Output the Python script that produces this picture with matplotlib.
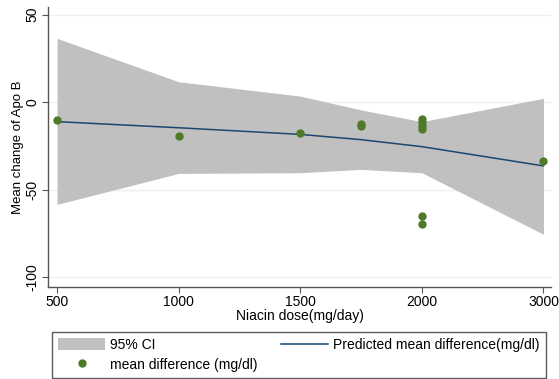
import numpy as np
import matplotlib
matplotlib.use("Agg")
import matplotlib.pyplot as plt
from matplotlib.patches import Patch
from matplotlib.lines import Line2D

plt.rcParams['font.family'] = ['Liberation Sans', 'DejaVu Sans']

# observed mean differences (dose, change)
obs_dose = [500, 1000, 1500, 1750, 1750, 2000, 2000, 2000, 2000, 2000, 2000, 3000]
obs_diff = [-10.5, -19.4, -17.6, -12.3, -13.5, -9.5, -11.5, -13.5, -15.5, -65.2, -69.8, -33.5]

# predicted curve and 95% CI
pred_dose = [500, 1000, 1500, 1750, 2000, 3000]
pred_mean = [-11.2, -14.7, -18.5, -21.5, -25.5, -36.5]
ci_upper = [36.4, 11.6, 3.4, -4.5, -11.2, 2.1]
ci_lower = [-58.5, -40.8, -40.4, -38.5, -40.4, -75.6]

xticks = [500, 1000, 1500, 2000, 3000]
yticks = [50, 0, -50, -100]


# x axis is compressed above 2000 (as in the original plot)
def fwd(x):
    x = np.asarray(x, dtype=float)
    return np.where(x <= 2000, x, 2000 + (x - 2000) * 0.5)


def inv(x):
    x = np.asarray(x, dtype=float)
    return np.where(x <= 2000, x, 2000 + (x - 2000) * 2.0)


W, H = 559, 379
fig = plt.figure(figsize=(W / 100, H / 100), dpi=100)
ax = fig.add_axes([48 / W, 1 - 287 / H, (551 - 48) / W, (287 - 7) / H])
ax.set_xscale('function', functions=(fwd, inv))

gray = '#c0c0c0'
green = '#4f7a28'
navy = '#1a476f'

ax.fill_between(pred_dose, ci_lower, ci_upper, color=gray, lw=0, zorder=1)
ax.plot(pred_dose, pred_mean, color=navy, lw=1.1, zorder=3)
ax.scatter(obs_dose, obs_diff, s=36, color=green, zorder=4, linewidths=0)

ax.set_xlim(463, 3062)
ax.set_ylim(-105.7, 54.3)
ax.set_xticks(xticks)
ax.set_xticklabels([str(v) for v in xticks])
ax.set_yticks(yticks)
ax.set_yticklabels([str(v) for v in yticks], rotation=90, va='center')
ax.minorticks_off()

for y in yticks:
    ax.axhline(y, color='#eaf2f3', lw=1, zorder=0)

for s in ['top', 'right']:
    ax.spines[s].set_visible(False)
for s in ['left', 'bottom']:
    ax.spines[s].set_color('#555555')
    ax.spines[s].set_linewidth(1)
ax.tick_params(axis='both', direction='out', length=4, color='#555555',
               labelsize=10, pad=2, labelcolor='black')

ax.set_xlabel('Niacin dose(mg/day)', fontsize=10, labelpad=0)
ax.set_ylabel('Mean change of Apo B', fontsize=9.5, labelpad=1)

handles = [
    Patch(facecolor=gray, edgecolor='none'),
    Line2D([], [], marker='o', color=green, linestyle='none', markersize=5),
    Line2D([], [], color=navy, lw=1.1),
]
labels = ['95% CI', 'mean difference (mg/dl)', 'Predicted mean difference(mg/dl)']
leg = fig.legend(handles, labels, ncol=2, loc='lower left',
                 bbox_to_anchor=(52 / W, 1 - 378 / H, (546 - 52) / W, (378 - 332) / H),
                 mode='expand', fontsize=10, frameon=True, fancybox=False,
                 borderaxespad=0, handlelength=3.4, handleheight=0.9,
                 handletextpad=0.35, labelspacing=0.43, borderpad=0.45,
                 columnspacing=1.0)
leg.get_frame().set_edgecolor('#333333')
leg.get_frame().set_linewidth(1)

fig.savefig('out.png', dpi=100)
